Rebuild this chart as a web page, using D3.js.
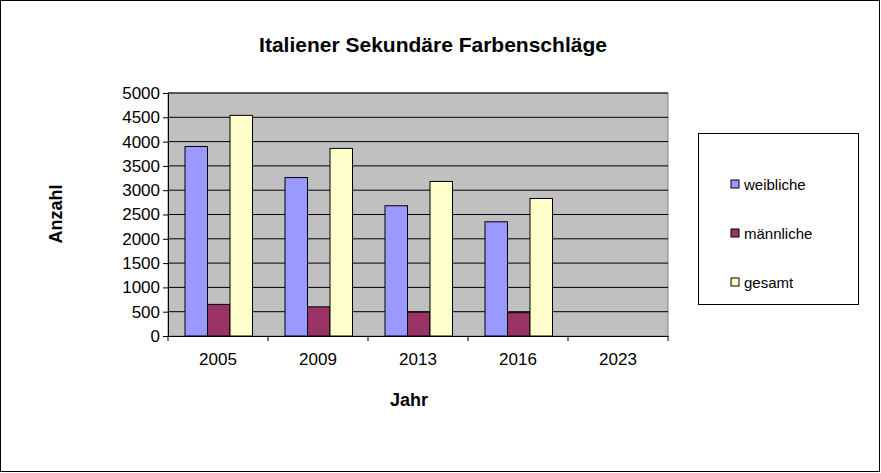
<!DOCTYPE html><html><head><meta charset="utf-8"><script src="https://cdn.jsdelivr.net/npm/d3@7"></script>
<style>body{margin:0;background:#fff}svg{font-family:"Liberation Sans",Arial,sans-serif}</style></head><body>
<svg id="c" width="881" height="473"></svg>
<script>
const years=["2005","2009","2013","2016","2023"];
const seriesNames=["weibliche","männliche","gesamt"];
const weibliche=[3900,3260,2680,2350,null];
const maennliche=[650,600,490,480,null];
const gesamt=[4540,3860,3180,2830,null];
const colors=["#9999FF","#993366","#FFFFCC"];
const yTicks=[0,500,1000,1500,2000,2500,3000,3500,4000,4500,5000];
const data=[weibliche,maennliche,gesamt];
const svg=d3.select("#c");
svg.append("rect").attr("x",0.5).attr("y",0.5).attr("width",879).attr("height",471).attr("fill","#fff").attr("stroke","#000");
const L=168,R=668,T=93,B=336;
const x=d3.scaleBand().domain(years).range([L,R]);
const y=d3.scaleLinear().domain([0,5000]).range([B,T]);
svg.append("rect").attr("x",L).attr("y",T).attr("width",R-L).attr("height",B-T).attr("fill","#C0C0C0").attr("stroke","#808080");
svg.selectAll(".g").data(yTicks.slice(1)).enter().append("line").attr("x1",L).attr("x2",R).attr("y1",d=>y(d)).attr("y2",d=>y(d)).attr("stroke","#000");
const bw=22.5,off=17;
data.forEach((s,i)=>{
 svg.selectAll(".b"+i).data(years.map((yr,j)=>({yr,v:s[j]})).filter(d=>d.v!=null)).enter().append("rect")
 .attr("x",d=>x(d.yr)+off+i*bw).attr("width",bw).attr("y",d=>y(d.v)).attr("height",d=>B-y(d.v))
 .attr("fill",colors[i]).attr("stroke","#000").attr("stroke-width",1);
});
const ya=svg.append("g").attr("transform",`translate(${L},0)`).call(d3.axisLeft(y).tickValues(yTicks).tickSize(5).tickSizeOuter(0).tickFormat(d3.format("d")));
const xa=svg.append("g").attr("transform",`translate(0,${B})`).call(d3.axisBottom(x).tickSize(0).tickSizeOuter(0).tickPadding(17));
[ya,xa].forEach(a=>{a.selectAll("text").attr("font-size",17).attr("fill","#000").attr("font-family","Liberation Sans, Arial");a.selectAll("line,path").attr("stroke","#000");});
xa.selectAll(".tk").data(years.concat(["end"])).enter().append("line").attr("x1",(d,i)=>L+i*x.bandwidth()).attr("x2",(d,i)=>L+i*x.bandwidth()).attr("y1",0).attr("y2",5).attr("stroke","#000");
svg.append("text").attr("x",433).attr("y",52).attr("text-anchor","middle").attr("font-size",21).attr("font-weight","bold").text("Italiener Sekundäre Farbenschläge");
svg.append("text").attr("x",409).attr("y",406).attr("text-anchor","middle").attr("font-size",18).attr("font-weight","bold").text("Jahr");
svg.append("text").attr("transform","translate(62,214) rotate(-90)").attr("text-anchor","middle").attr("font-size",18).attr("font-weight","bold").text("Anzahl");
svg.append("rect").attr("x",698.5).attr("y",133.5).attr("width",160).attr("height",171).attr("fill","#fff").attr("stroke","#000");
seriesNames.forEach((n,i)=>{
 const yy=190+i*49;
 svg.append("rect").attr("x",731).attr("y",yy-10).attr("width",8).attr("height",8).attr("fill",colors[i]).attr("stroke","#000");
 svg.append("text").attr("x",744).attr("y",yy).attr("font-size",15).text(n);
});
</script></body></html>
